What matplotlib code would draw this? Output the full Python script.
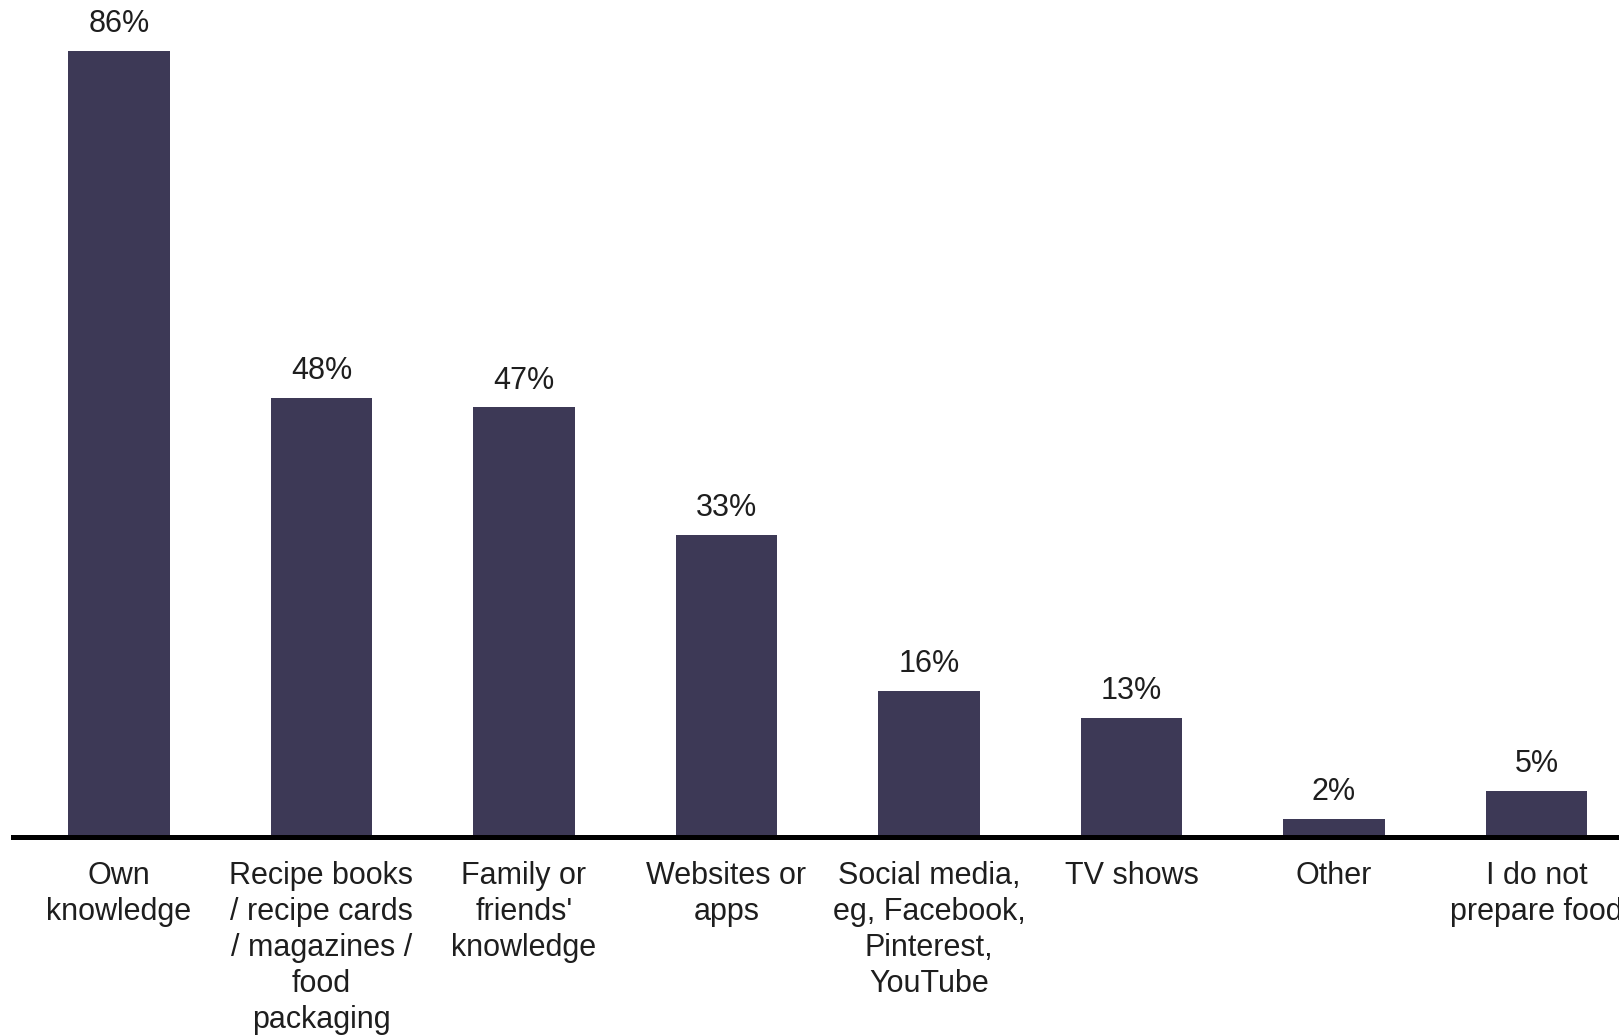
import numpy as np
import matplotlib.pyplot as plt

plt.rcParams['font.family'] = ['Liberation Sans', 'DejaVu Sans']

categories = ["Own\nknowledge",
              "Recipe books\n/ recipe cards\n/ magazines /\nfood\npackaging",
              "Family or\nfriends'\nknowledge",
              "Websites or\napps",
              "Social media,\neg, Facebook,\nPinterest,\nYouTube",
              "TV shows",
              "Other",
              "I do not\nprepare food"]
values = [86, 48, 47, 33, 16, 13, 2, 5]

bar_color = "#3d3956"
text_color = "#1e1e1e"

W, H = 1619, 1036
fig = plt.figure(figsize=(W / 100, H / 100), dpi=100)

# axes runs off the right edge, so the last label gets cut
left_px, base_px, top_px = 13, 837, 15
ax = fig.add_axes([left_px / W, 1 - base_px / H, 1 - left_px / W, (base_px - top_px) / H])

x = np.arange(len(values))
bars = ax.bar(x, values, width=0.5, color=bar_color, zorder=2)

ax.set_xlim(-0.523, 7.407)
ax.set_ylim(0, (base_px - top_px) / 9.14)

for b, v in zip(bars, values):
    ax.text(b.get_x() + b.get_width() / 2, v + 1.3, f"{v}%", ha="center", va="bottom",
            fontsize=22, color=text_color)

ax.set_xticks(x)
ax.set_xticklabels(categories, fontsize=22, color=text_color, linespacing=1.27, va="top")
ax.tick_params(axis="x", length=0, pad=17)
ax.set_yticks([])

for s in ["top", "right", "left"]:
    ax.spines[s].set_visible(False)
ax.spines["bottom"].set_linewidth(3.6)
ax.spines["bottom"].set_color("black")
ax.spines["bottom"].set_zorder(3)

fig.savefig("out.png", dpi=100)
